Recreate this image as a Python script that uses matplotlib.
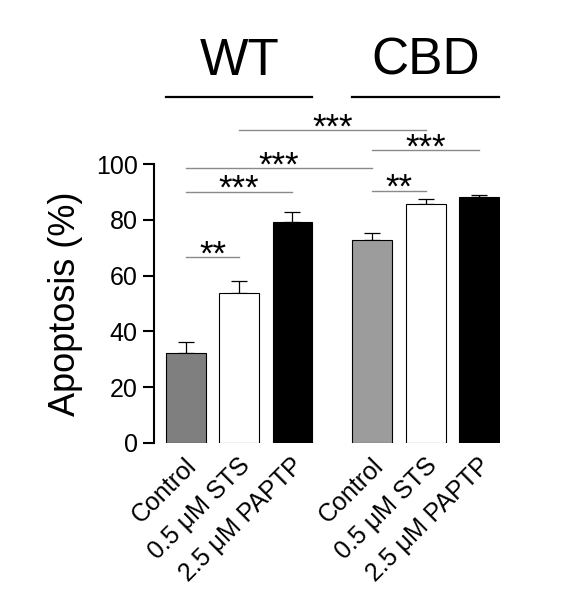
import matplotlib
matplotlib.use("Agg")
import matplotlib.pyplot as plt
import matplotlib.transforms as mtransforms
import numpy as np

plt.rcParams['font.family'] = ['Liberation Sans', 'DejaVu Sans']

# data
labels = ["Control", "0.5 \u03bcM STS", "2.5 \u03bcM PAPTP",
          "Control", "0.5 \u03bcM STS", "2.5 \u03bcM PAPTP"]
means = [32.1, 53.9, 79.4, 72.7, 85.6, 88.1]
errs = [4.1, 4.3, 3.6, 2.6, 1.9, 1.0]
colors = ["#7f7f7f", "#ffffff", "#000000", "#9c9c9c", "#ffffff", "#000000"]
positions = [0, 1, 2, 3.5, 4.5, 5.5]
groups = ["WT", "CBD"]

# significance pairs: (bar i, bar j, height, stars)
sig = [(0, 1, 66.7, "**"),
       (0, 2, 90.2, "***"),
       (0, 3, 98.6, "***"),
       (3, 4, 90.5, "**"),
       (3, 5, 105.1, "***"),
       (1, 4, 112.3, "***")]

fig = plt.figure(figsize=(5.87, 5.96), dpi=100)
ax = fig.add_axes([0.263, 0.2572, 0.5896, 0.4671])

w = 0.75
ax.bar(positions, means, width=w, color=colors, edgecolor="black", linewidth=0.8, zorder=2)
ax.errorbar(positions, means, yerr=[np.zeros(len(errs)), errs], fmt="none",
            ecolor="black", elinewidth=0.9, capsize=6, capthick=0.9, zorder=1)

ax.set_xlim(-0.59, 5.9)
ax.set_ylim(0, 100)
ax.set_yticks([0, 20, 40, 60, 80, 100])
ax.tick_params(axis="y", direction="out", length=8, width=1.5, pad=4, labelsize=18)
ax.set_xticks(positions)
ax.set_xticklabels(labels, rotation=45, ha="right", va="center",
                   rotation_mode="anchor", fontsize=18)
ax.tick_params(axis="x", length=0, pad=14)
shift = mtransforms.ScaledTranslation(7 / 100, 0, fig.dpi_scale_trans)
for lab in ax.get_xticklabels():
    lab.set_transform(lab.get_transform() + shift)
for s in ["top", "right", "bottom"]:
    ax.spines[s].set_visible(False)
ax.spines["left"].set_linewidth(1.5)
ax.set_ylabel("Apoptosis (%)", fontsize=26, labelpad=9)

# significance lines
for i, j, h, stars in sig:
    x1, x2 = positions[i], positions[j]
    ax.plot([x1, x2], [h, h], color="#8a8a8a", linewidth=1.0, clip_on=False)
    ax.text((x1 + x2) / 2, h - 2.6, stars, ha="center", va="baseline",
            fontsize=25, clip_on=False)

# group headers
for g, idx in zip(groups, [(0, 2), (3, 5)]):
    xa = positions[idx[0]] - w / 2
    xb = positions[idx[1]] + w / 2
    ax.plot([xa, xb], [124.3, 124.3], color="black", linewidth=1.6, clip_on=False)
    ax.text((xa + xb) / 2, 132.1, g, ha="center", va="baseline", fontsize=37)

fig.savefig("out.png", dpi=100)
